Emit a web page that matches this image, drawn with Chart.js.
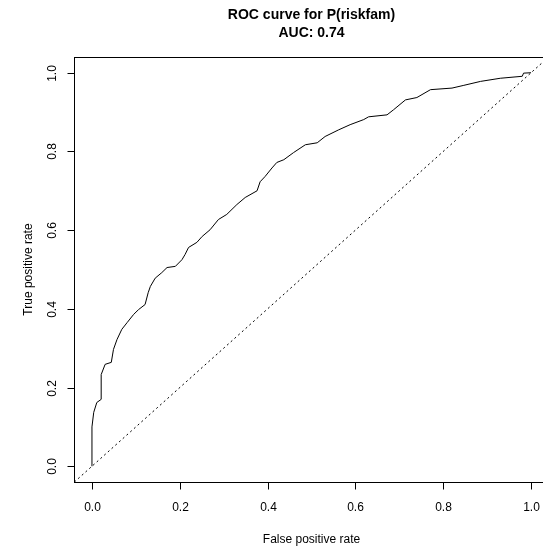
<!DOCTYPE html>
<html>
<head>
<meta charset="utf-8">
<script src="https://cdn.jsdelivr.net/npm/chart.js@4"></script>
<style>
  html, body { margin: 0; padding: 0; background: #fff; overflow: hidden; }
  canvas { display: block; }
</style>
</head>
<body>
<canvas id="rocChart" width="623" height="548"></canvas>
<script>
const fpr = [0, 0, 0.004, 0.011, 0.021, 0.021, 0.030, 0.044, 0.049, 0.057, 0.068, 0.080, 0.095, 0.106,
  0.121, 0.128, 0.133, 0.144, 0.159, 0.171, 0.190, 0.205, 0.212, 0.220, 0.239, 0.251, 0.269, 0.288,
  0.307, 0.330, 0.349, 0.376, 0.383, 0.394, 0.410, 0.421, 0.437, 0.459, 0.486, 0.513, 0.531, 0.562,
  0.588, 0.619, 0.630, 0.672, 0.687, 0.714, 0.740, 0.771, 0.820, 0.847, 0.885, 0.930, 0.980, 0.983, 1.0];
const tpr = [0, 0.10, 0.137, 0.162, 0.17, 0.233, 0.259, 0.264, 0.297, 0.322, 0.348, 0.365, 0.386, 0.398,
  0.411, 0.441, 0.457, 0.478, 0.492, 0.505, 0.508, 0.525, 0.538, 0.556, 0.569, 0.584, 0.601, 0.627,
  0.640, 0.665, 0.683, 0.700, 0.723, 0.736, 0.758, 0.772, 0.779, 0.797, 0.817, 0.822, 0.838, 0.855,
  0.868, 0.881, 0.888, 0.893, 0.906, 0.931, 0.937, 0.957, 0.961, 0.968, 0.978, 0.986, 0.991, 0.999, 1.0];
const axisLimits = [-0.04, 1.04];
const xTicks = [0, 0.2, 0.4, 0.6, 0.8, 1.0];
const yTicks = [0, 0.2, 0.4, 0.6, 0.8, 1.0];
const titleLines = ['ROC curve for P(riskfam)', 'AUC: 0.74'];
const xTitle = 'False positive rate';
const yTitle = 'True positive rate';

const FONT = '"Liberation Sans", Arial, Helvetica, sans-serif';

// ejes estilo R (caja, marcas y textos)
const rAxes = {
  id: 'rAxes',
  afterDraw(chart) {
    const ctx = chart.ctx;
    const a = chart.chartArea;
    const xs = chart.scales.x, ys = chart.scales.y;
    ctx.save();
    ctx.strokeStyle = '#000';
    ctx.lineWidth = 1;
    ctx.strokeRect(Math.round(a.left) + 0.5, Math.round(a.top) + 0.5,
      Math.round(a.right - a.left), Math.round(a.bottom - a.top));

    ctx.fillStyle = '#000';
    ctx.font = '12px ' + FONT;
    ctx.textAlign = 'center';
    ctx.textBaseline = 'middle';
    const bottom = Math.round(a.bottom) + 0.5;
    xTicks.forEach(v => {
      const px = Math.round(xs.getPixelForValue(v)) + 0.5;
      ctx.beginPath();
      ctx.moveTo(px, bottom);
      ctx.lineTo(px, bottom + 7);
      ctx.stroke();
      ctx.fillText(v.toFixed(1), px, a.bottom + 26);
    });
    const left = Math.round(a.left) + 0.5;
    yTicks.forEach(v => {
      const py = Math.round(ys.getPixelForValue(v)) + 0.5;
      ctx.beginPath();
      ctx.moveTo(left, py);
      ctx.lineTo(left - 7, py);
      ctx.stroke();
      ctx.save();
      ctx.translate(a.left - 22, py);
      ctx.rotate(-Math.PI / 2);
      ctx.fillText(v.toFixed(1), 0, 0);
      ctx.restore();
    });

    const cx = (a.left + a.right) / 2;
    const cy = (a.top + a.bottom) / 2;
    ctx.fillText(xTitle, cx, a.bottom + 58);
    ctx.save();
    ctx.translate(a.left - 46, cy);
    ctx.rotate(-Math.PI / 2);
    ctx.fillText(yTitle, 0, 0);
    ctx.restore();

    ctx.font = 'bold 14px ' + FONT;
    ctx.fillText(titleLines[0], cx, 15);
    ctx.fillText(titleLines[1], cx, 33);
    ctx.restore();
  }
};

const rocChart = new Chart(document.getElementById('rocChart'), {
  type: 'line',
  data: {
    datasets: [{
      label: 'ROC',
      data: fpr.map((x, i) => ({ x: x, y: tpr[i] })),
      borderColor: '#000',
      borderWidth: 1,
      pointRadius: 0,
      tension: 0,
      fill: false
    }, {
      label: 'diagonal',
      data: axisLimits.map(v => ({ x: v, y: v })),
      borderColor: '#000',
      borderWidth: 1,
      borderDash: [2, 3],
      pointRadius: 0,
      fill: false
    }]
  },
  options: {
    responsive: false,
    animation: false,
    devicePixelRatio: 1,
    layout: { padding: { left: 74.4, right: 74.4, top: 57, bottom: 66 } },
    plugins: { legend: { display: false }, tooltip: { enabled: false } },
    scales: {
      x: { type: 'linear', min: axisLimits[0], max: axisLimits[1], display: false },
      y: { type: 'linear', min: axisLimits[0], max: axisLimits[1], display: false }
    }
  },
  plugins: [rAxes]
});
</script>
</body>
</html>
